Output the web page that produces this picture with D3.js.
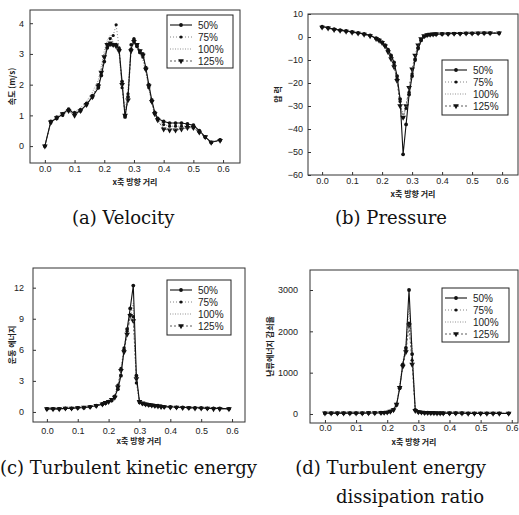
<!DOCTYPE html>
<html>
<head>
<meta charset="utf-8">
<script src="https://cdn.jsdelivr.net/npm/d3@7"></script>
<style>
  body { margin: 0; background: #fff; }
  svg { display: block; }
</style>
</head>
<body>
<svg id="chart" width="519" height="515"></svg>
<script>
// x positions (distance along x) shared by every panel
const xs = [0, 0.02, 0.04, 0.06, 0.08, 0.10, 0.12, 0.14, 0.16, 0.18,
  0.19, 0.20, 0.21, 0.22, 0.23, 0.24, 0.25, 0.26, 0.27, 0.28,
  0.29, 0.30, 0.31, 0.32, 0.33, 0.34, 0.35, 0.36, 0.37, 0.38,
  0.40, 0.42, 0.44, 0.46, 0.48, 0.50, 0.52, 0.54, 0.56, 0.59]

const seriesNames = ["50%", "75%", "100%", "125%"]

// (a) velocity
const vel50 = [0, 0.8, 0.9, 1.05, 1.2, 1.05, 1.15, 1.35, 1.6, 1.9,
  2.3, 2.75, 3.2, 3.3, 3.3, 3.3, 3.15, 2.1, 0.95, 1.6,
  3.15, 3.45, 3.25, 3.05, 3.0, 2.55, 2.0, 1.5, 1.1, 0.9,
  0.8, 0.75, 0.75, 0.75, 0.72, 0.68, 0.5, 0.3, 0.12, 0.2]
const vel75 = [0, 0.75, 0.95, 1.0, 1.15, 1.1, 1.2, 1.4, 1.65, 2.0,
  2.4, 2.9, 3.3, 3.5, 3.6, 3.95, 3.2, 1.9, 1.0, 1.7,
  3.3, 3.5, 3.3, 3.1, 2.9, 2.5, 1.9, 1.45, 1.05, 0.85,
  0.7, 0.65, 0.65, 0.65, 0.65, 0.6, 0.45, 0.28, 0.12, 0.2]
const vel100 = [0, 0.8, 0.95, 1.1, 1.2, 1.1, 1.25, 1.45, 1.75, 2.15,
  2.6, 3.1, 3.45, 3.6, 3.4, 3.3, 3.0, 1.9, 1.1, 1.9,
  3.25, 3.35, 3.2, 3.0, 2.8, 2.4, 1.85, 1.4, 1.0, 0.8,
  0.6, 0.55, 0.55, 0.55, 0.6, 0.58, 0.45, 0.3, 0.15, 0.2]
const vel125 = [0, 0.78, 0.92, 1.05, 1.15, 1.0, 1.15, 1.35, 1.6, 1.95,
  2.4, 2.9, 3.3, 3.35, 3.3, 3.25, 3.1, 2.0, 1.0, 1.5,
  3.1, 3.4, 3.3, 3.1, 2.95, 2.5, 1.95, 1.45, 1.05, 0.85,
  0.55, 0.52, 0.52, 0.55, 0.6, 0.6, 0.45, 0.3, 0.12, 0.18]

// (b) pressure
const pres50 = [4.5, 4.0, 3.4, 3.0, 2.6, 2.2, 1.8, 1.3, 0.7, -0.5,
  -1.3, -2.2, -3.5, -5.5, -8, -11, -17, -27, -51, -38,
  -25, -17, -10, -5, -1.5, 0.2, 0.8, 1.0, 1.1, 1.2,
  1.3, 1.4, 1.5, 1.5, 1.6, 1.6, 1.6, 1.7, 1.7, 1.7]
const pres75 = [4.3, 3.9, 3.3, 2.9, 2.5, 2.1, 1.7, 1.2, 0.6, -0.6,
  -1.4, -2.4, -3.8, -5.8, -8.5, -12, -18, -28, -35, -31,
  -24, -16, -9.5, -4.5, -1.2, 0.3, 0.8, 1.0, 1.1, 1.2,
  1.3, 1.4, 1.5, 1.5, 1.6, 1.6, 1.6, 1.7, 1.7, 1.7]
const pres100 = [4.4, 3.9, 3.4, 3.0, 2.6, 2.2, 1.8, 1.3, 0.6, -0.6,
  -1.5, -2.5, -4.0, -6.0, -9, -13, -19, -29, -34, -30,
  -22, -15, -9, -4, -1.0, 0.4, 0.9, 1.1, 1.2, 1.3,
  1.4, 1.5, 1.5, 1.6, 1.6, 1.7, 1.7, 1.7, 1.8, 1.8]
const pres125 = [4.2, 3.8, 3.2, 2.8, 2.4, 2.0, 1.6, 1.1, 0.5, -0.7,
  -1.5, -2.5, -4.0, -6.5, -9.5, -13, -19, -30, -35, -30,
  -22, -14, -8, -3.5, -0.8, 0.5, 0.9, 1.1, 1.2, 1.3,
  1.4, 1.4, 1.5, 1.5, 1.6, 1.6, 1.7, 1.7, 1.7, 1.7]

// (c) turbulent kinetic energy
const tke50 = [0.3, 0.3, 0.3, 0.35, 0.35, 0.4, 0.4, 0.5, 0.6, 0.75,
  0.85, 1.0, 1.1, 1.5, 2.2, 3.5, 6.0, 8.0, 10.0, 12.2,
  3.5, 1.0, 0.8, 0.75, 0.7, 0.65, 0.6, 0.6, 0.55, 0.5,
  0.5, 0.45, 0.45, 0.4, 0.4, 0.4, 0.35, 0.35, 0.35, 0.3]
const tke75 = [0.3, 0.3, 0.3, 0.35, 0.35, 0.4, 0.45, 0.5, 0.6, 0.8,
  0.9, 1.0, 1.2, 1.5, 2.6, 4.2, 6.2, 7.8, 9.4, 9.2,
  2.8, 0.9, 0.8, 0.7, 0.65, 0.6, 0.6, 0.55, 0.5, 0.5,
  0.45, 0.45, 0.4, 0.4, 0.4, 0.35, 0.35, 0.35, 0.3, 0.3]
const tke100 = [0.3, 0.3, 0.3, 0.35, 0.4, 0.4, 0.45, 0.55, 0.65, 0.8,
  0.9, 1.05, 1.2, 1.6, 2.5, 4.0, 6.0, 7.6, 9.0, 10.5,
  3.0, 0.9, 0.8, 0.7, 0.65, 0.6, 0.55, 0.55, 0.5, 0.5,
  0.45, 0.45, 0.4, 0.4, 0.4, 0.35, 0.35, 0.35, 0.3, 0.3]
const tke125 = [0.3, 0.3, 0.3, 0.35, 0.35, 0.4, 0.45, 0.5, 0.6, 0.75,
  0.9, 1.0, 1.2, 1.4, 2.4, 4.0, 5.8, 7.5, 9.3, 8.8,
  3.2, 1.0, 0.85, 0.75, 0.7, 0.65, 0.6, 0.55, 0.5, 0.5,
  0.45, 0.45, 0.4, 0.4, 0.35, 0.35, 0.35, 0.3, 0.3, 0.3]

// (d) turbulent energy dissipation ratio
const eps50 = [20, 20, 20, 20, 20, 20, 20, 25, 25, 30,
  35, 40, 60, 100, 220, 620, 1200, 1600, 3000, 1450,
  100, 50, 40, 30, 30, 25, 25, 20, 20, 20,
  20, 20, 20, 15, 15, 15, 15, 15, 15, 15]
const eps75 = [20, 20, 20, 20, 20, 20, 20, 25, 25, 30,
  35, 40, 60, 110, 240, 650, 1180, 1550, 2200, 1300,
  90, 50, 40, 30, 30, 25, 25, 20, 20, 20,
  20, 20, 20, 15, 15, 15, 15, 15, 15, 15]
const eps100 = [20, 20, 20, 20, 20, 20, 20, 25, 25, 30,
  35, 45, 70, 120, 260, 700, 1250, 1650, 2600, 1600,
  110, 50, 40, 30, 30, 25, 25, 20, 20, 20,
  20, 20, 20, 15, 15, 15, 15, 15, 15, 15]
const eps125 = [20, 20, 20, 20, 20, 20, 20, 25, 25, 30,
  35, 40, 60, 100, 230, 640, 1150, 1500, 2150, 1200,
  80, 50, 40, 30, 30, 25, 25, 20, 20, 20,
  20, 20, 20, 15, 15, 15, 15, 15, 15, 15]

const xTicks = [0, 0.1, 0.2, 0.3, 0.4, 0.5, 0.6]
const velTicks = [0, 1, 2, 3, 4]
const presTicks = [10, 0, -10, -20, -30, -40, -50, -60]
const tkeTicks = [0, 3, 6, 9, 12]
const epsTicks = [0, 1000, 2000, 3000]

const xTitle = "x축 방향 거리"

const styles = [
  { stroke: "#111", width: 1.1, dash: null, mark: "circle", r: 1.9 },
  { stroke: "#666", width: 0.8, dash: "1,2", mark: "circle", r: 1.6 },
  { stroke: "#777", width: 0.8, dash: "1,1.5", mark: null },
  { stroke: "#333", width: 0.8, dash: "2,2", mark: "tri", r: 2.2 }
]

const svg = d3.select("#chart")
svg.append("rect").attr("width", 519).attr("height", 515).attr("fill", "#fff")

const panels = [
  { left: 30, top: 10, right: 240, bottom: 163, xDom: [-0.05, 0.657], yDom: [-0.55, 4.43],
    series: [vel50, vel75, vel100, vel125], yTicks: velTicks, yFmt: d3.format("d"),
    yPad: 6, xPad: 3, yTitle: "속도 (m/s)", yTitleX: 12,
    legend: { x: 167, y: 15, w: 66, h: 53 } },
  { left: 308, top: 14, right: 518, bottom: 175, xDom: [-0.047, 0.653], yDom: [-60, 10],
    series: [pres50, pres75, pres100, pres125], yTicks: presTicks, yFmt: d3.format("d"),
    yPad: 5, xPad: 3, yTitle: "압 력", yTitleX: 278,
    legend: { x: 442, y: 60, w: 66, h: 55 } },
  { left: 33, top: 268, right: 245, bottom: 422, xDom: [-0.045, 0.642], yDom: [-0.97, 13.9],
    series: [tke50, tke75, tke100, tke125], yTicks: tkeTicks, yFmt: d3.format("d"),
    yPad: 9, xPad: 6, yTitle: "운동 에너지", yTitleX: 12,
    legend: { x: 167, y: 280, w: 64, h: 55 } },
  { left: 310, top: 270, right: 518, bottom: 423, xDom: [-0.048, 0.62], yDom: [-218, 3484],
    series: [eps50, eps75, eps100, eps125], yTicks: epsTicks, yFmt: d3.format("d"),
    yPad: 12, xPad: 2, yTitle: "난류에너지 감쇠율", yTitleX: 270,
    legend: { x: 442, y: 288, w: 67, h: 54 } }
]

function drawMark(g, st, x, y) {
  if (st.mark === "circle") {
    g.append("circle").attr("cx", x).attr("cy", y).attr("r", st.r).attr("fill", "#111")
  } else if (st.mark === "tri") {
    g.append("path")
      .attr("d", d3.symbol(d3.symbolTriangle, 14)())
      .attr("transform", "translate(" + x + "," + y + ") rotate(180)")
      .attr("fill", "#111")
  }
}

panels.forEach(p => {
  const g = svg.append("g")
  const x = d3.scaleLinear().domain(p.xDom).range([p.left, p.right])
  const y = d3.scaleLinear().domain(p.yDom).range([p.bottom, p.top])

  g.append("rect")
    .attr("x", p.left).attr("y", p.top)
    .attr("width", p.right - p.left).attr("height", p.bottom - p.top)
    .attr("fill", "none").attr("stroke", "#333").attr("stroke-width", 1)

  const xAxis = d3.axisBottom(x).tickValues(xTicks).tickFormat(d3.format(".1f"))
    .tickSizeInner(-3).tickSizeOuter(0).tickPadding(p.xPad)
  const yAxis = d3.axisLeft(y).tickValues(p.yTicks).tickFormat(p.yFmt)
    .tickSizeInner(-3).tickSizeOuter(0).tickPadding(p.yPad)

  g.append("g").attr("transform", "translate(0," + p.bottom + ")").call(xAxis)
    .call(a => a.select(".domain").remove())
  g.append("g").attr("transform", "translate(" + p.left + ",0)").call(yAxis)
    .call(a => a.select(".domain").remove())
  g.selectAll(".tick text").attr("font-family", "Liberation Sans, sans-serif")
    .attr("font-size", 9).attr("fill", "#222")
  g.selectAll(".tick line").attr("stroke", "#333")

  g.append("text")
    .attr("x", (p.left + p.right) / 2).attr("y", p.bottom + 22)
    .attr("text-anchor", "middle")
    .attr("font-family", "Noto Sans CJK KR, sans-serif").attr("font-size", 8)
    .attr("font-weight", "bold").attr("fill", "#222")
    .text(xTitle)

  g.append("text")
    .attr("transform", "translate(" + p.yTitleX + "," + ((p.top + p.bottom) / 2) + ") rotate(-90)")
    .attr("text-anchor", "middle").attr("dy", "0.35em")
    .attr("font-family", "Noto Sans CJK KR, sans-serif").attr("font-size", 8)
    .attr("font-weight", "bold").attr("fill", "#222")
    .text(p.yTitle)

  const line = d3.line().x((d, i) => x(xs[i])).y(d => y(d))

  // draw 125% first so 50% sits on top
  p.series.map((vals, k) => ({ vals, k })).reverse().forEach(({ vals, k }) => {
    const st = styles[k]
    g.append("path").datum(vals).attr("d", line)
      .attr("fill", "none").attr("stroke", st.stroke)
      .attr("stroke-width", st.width)
      .attr("stroke-dasharray", st.dash)
    vals.forEach((v, i) => drawMark(g, st, x(xs[i]), y(v)))
  })

  // legend
  const L = p.legend
  const lg = g.append("g")
  lg.append("rect").attr("x", L.x).attr("y", L.y).attr("width", L.w).attr("height", L.h)
    .attr("fill", "#fff").attr("stroke", "#222").attr("stroke-width", 1)
  seriesNames.forEach((name, k) => {
    const st = styles[k]
    const ry = L.y + 10 + k * 12
    lg.append("line").attr("x1", L.x + 3).attr("x2", L.x + 25)
      .attr("y1", ry).attr("y2", ry)
      .attr("stroke", st.stroke).attr("stroke-width", st.width)
      .attr("stroke-dasharray", st.dash)
    drawMark(lg, st, L.x + 14, ry)
    lg.append("text").attr("x", L.x + 31).attr("y", ry).attr("dy", "0.35em")
      .attr("font-family", "Liberation Sans, sans-serif").attr("font-size", 10)
      .attr("fill", "#222").text(name)
  })
})

// captions
const captions = [
  { text: "(a) Velocity", x: 72, y: 224, anchor: "start" },
  { text: "(b) Pressure", x: 335, y: 224, anchor: "start" },
  { text: "(c) Turbulent kinetic energy", x: 0, y: 474, anchor: "start" },
  { text: "(d) Turbulent energy", x: 486, y: 474, anchor: "end" },
  { text: "dissipation ratio", x: 484, y: 503, anchor: "end" }
]
svg.selectAll(".caption").data(captions).enter().append("text")
  .attr("class", "caption")
  .attr("x", d => d.x).attr("y", d => d.y)
  .attr("text-anchor", d => d.anchor)
  .attr("font-family", "DejaVu Serif, serif").attr("font-size", 18)
  .attr("fill", "#111")
  .text(d => d.text)
</script>
</body>
</html>
